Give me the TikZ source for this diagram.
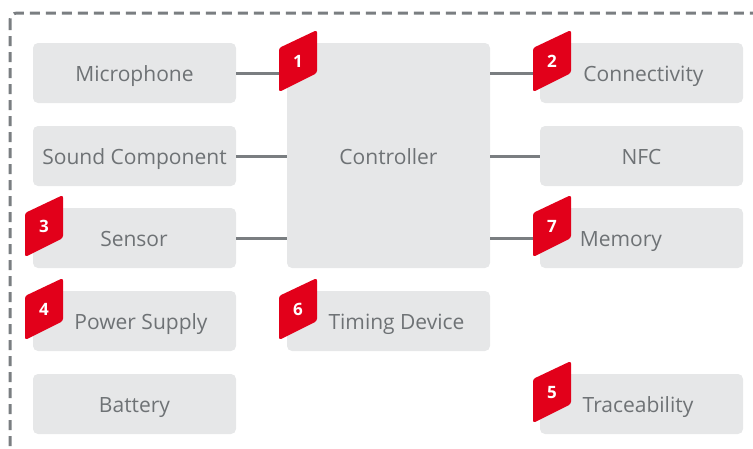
\documentclass[tikz,border=0pt]{standalone}
\usepackage{fontspec}
\setmainfont{Open Sans}
\definecolor{boxfill}{HTML}{E6E7E8}
\definecolor{txtgray}{HTML}{6E7275}
\definecolor{linegray}{HTML}{7A7E81}
\definecolor{badgered}{HTML}{E2001A}
\tikzset{
  box/.style={fill=boxfill, rounded corners=5pt, minimum width=203pt, minimum height=60pt, inner sep=0pt},
  lbl/.style={text=txtgray, font=\fontsize{21}{24}\selectfont, anchor=base, inner sep=0pt},
  conn/.style={draw=linegray, line width=3pt},
  badgenum/.style={text=white, font=\fontsize{17}{19}\selectfont\bfseries, anchor=base, inner sep=0pt},
}
\newcommand\mybadge[4]{% name, x, y, number
  \fill[badgered, rounded corners=2.5pt] (#2-19,#3+31) -- (#2-19,#3-13) -- (#2+19,#3-31) -- (#2+19,#3+12) -- cycle;
  \node[badgenum] (#1) at (#2,#3+6.5) {#4};
}
\begin{document}
\begin{tikzpicture}[x=1pt,y=-1pt]
\useasboundingbox (0,0) rectangle (753,448);
\clip (0,0) rectangle (753,448);
% dashed frame
\draw[linegray, line width=3pt, dash pattern=on 10pt off 6pt, rounded corners=7pt] (10,13) rectangle (790,480);
% boxes
\node[box] (mic) at (134.5,73) {};
\node[box] (snd) at (134.5,156) {};
\node[box] (sen) at (134.5,238) {};
\node[box] (pow) at (134.5,321) {};
\node[box] (bat) at (134.5,404) {};
\node[box, minimum height=225pt] (ctl) at (388.5,155.5) {};
\node[box] (tim) at (388.5,321) {};
\node[box] (con) at (641.5,73) {};
\node[box] (nfc) at (641.5,156) {};
\node[box] (mem) at (641.5,238) {};
\node[box] (tra) at (641.5,404) {};
% labels
\node[lbl] (tmic) at (134.5,81) {Microphone};
\node[lbl] (tsnd) at (134.5,164) {Sound Component};
\node[lbl] (tsen) at (134,246) {Sensor};
\node[lbl] (tpow) at (141,329) {Power Supply};
\node[lbl] (tbat) at (134.5,412) {Battery};
\node[lbl] (tctl) at (388.5,164) {Controller};
\node[lbl] (ttim) at (396.5,329) {Timing Device};
\node[lbl] (tcon) at (643.5,81) {Connectivity};
\node[lbl] (tnfc) at (641.5,164) {NFC};
\node[lbl] (tmem) at (621,246) {Memory};
\node[lbl] (ttra) at (638,412) {Traceability};
% connectors
\coordinate (b1w) at (279,73);
\coordinate (b2w) at (533,73);
\coordinate (b7w) at (533,238);
\draw[conn] (mic.east) -- (b1w);
\draw[conn] (snd.east) -- (snd.east -| ctl.west);
\draw[conn] (sen.east) -- (sen.east -| ctl.west);
\draw[conn] (ctl.east |- con) -- (b2w);
\draw[conn] (ctl.east |- nfc) -- (nfc.west);
\draw[conn] (ctl.east |- mem) -- (b7w);
% badges
\mybadge{b1}{298}{61}{1}
\mybadge{b2}{552}{61}{2}
\mybadge{b3}{44}{226}{3}
\mybadge{b4}{44}{309}{4}
\mybadge{b5}{552}{392}{5}
\mybadge{b6}{298}{309}{6}
\mybadge{b7}{552}{226}{7}
\end{tikzpicture}
\end{document}
